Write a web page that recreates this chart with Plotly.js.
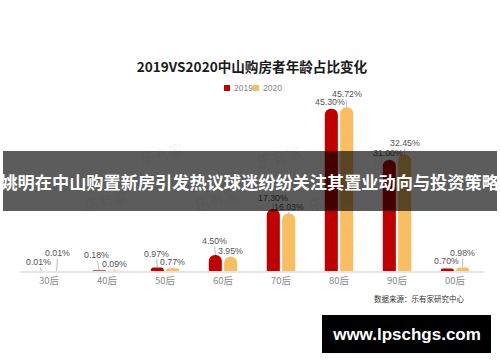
<!DOCTYPE html>
<html>
<head>
<meta charset="utf-8">
<script src="https://cdn.plot.ly/plotly-3.0.1.min.js"></script>
<style>html,body{margin:0;padding:0;background:#fff;}#chart{width:500px;height:362px;}</style>
</head>
<body>
<div id="chart"></div>
<script>
const categories = ['30后','40后','50后','60后','70后','80后','90后','00后'];
const v2019 = [0.01, 0.18, 0.97, 4.50, 17.30, 45.30, 31.00, 0.70];
const v2020 = [0.01, 0.09, 0.77, 3.95, 16.03, 45.72, 32.45, 0.98];
const seriesNames = ['2019', '2020'];
const titleText = '2019VS2020中山购房者年龄占比变化';
const sourceText = '数据来源：乐有家研究中心';
const bannerText = '姚明在中山购置新房引发热议球迷纷纷关注其置业动向与投资策略';
const siteText = 'www.lpschgs.com';
const watermarkText = '乐有家';

// layout geometry (pixels)
const W = 500, H = 362, ML = 20, MR = 16, MT = 92, MB = 91;
const PW = W - ML - MR, PH = H - MT - MB;
const X = px => (px - ML) / PW;
const Y = py => (H - MB - py) / PH;

const colors = ['#C00000', '#F9BE62'];
const labelFont = {family: 'Liberation Sans, Arial, sans-serif', size: 8.8, color: '#555'};
// label offsets in pixels [ax, ay] relative to each bar top
const off2019 = [[-3,-9],[-3,-15],[-1,-14],[-1,-14],[0,-11],[-1,-7],[-1,-7],[-1,-7]];
const off2020 = [[1,-18],[0,-7],[0,-6],[0,-6],[0,-7],[0,-13],[0,-12],[0,-14]];
const barShift = 7.7;

const traces = [v2019, v2020].map((vals, i) => ({
  type: 'bar', name: seriesNames[i], x: categories, y: vals,
  marker: {color: colors[i], cornerradius: '50%'},
  hoverinfo: 'skip', showlegend: false
}));

const annotations = [];
// watermarks
[[135,135],[278,138],[420,134],[79,219],[216,218],[357,219]].forEach(p => {
  annotations.push({xref:'paper', yref:'paper', x:X(p[0]), y:Y(p[1]), text: watermarkText,
    showarrow:false, textangle:-15, font:{family:'Noto Sans CJK SC', size:15, color:'rgba(0,0,0,0.055)', weight:'bold'}});
});
// data labels
[[v2019, off2019, -barShift], [v2020, off2020, barShift]].forEach(([vals, offs, sh]) => {
  vals.forEach((v, j) => {
    annotations.push({xref:'x', yref:'y', x: categories[j], y: v, xshift: sh,
      text: v.toFixed(2) + '%', showarrow: true, arrowhead: 0, arrowwidth: 0.8, arrowcolor: '#aaa',
      standoff: 0, startstandoff: 0, ax: offs[j][0], ay: offs[j][1], borderpad: 0,
      font: labelFont});
  });
});
// legend
seriesNames.forEach((n, i) => {
  annotations.push({xref:'paper', yref:'paper', x: X(i === 0 ? 232 : 261), y: Y(88), xanchor:'left', yanchor:'middle',
    text: n, showarrow:false, font:{family:'Liberation Sans, Arial, sans-serif', size:8.5, color:'#888'}});
});
// source
annotations.push({xref:'paper', yref:'paper', x: X(466), y: Y(298), xanchor:'right', yanchor:'middle',
  text: sourceText, showarrow:false, font:{family:'Noto Sans CJK SC', size:7.5, color:'#333'}});
// banner
annotations.push({xref:'paper', yref:'paper', x: X(250), y: Y(181), xanchor:'center', yanchor:'middle',
  text: bannerText, showarrow:false, width: 494, height: 60, borderpad: 0, borderwidth: 0,
  bgcolor: 'rgba(0,0,0,0.64)', font:{family:'Noto Sans CJK SC', size:17.2, color:'#fff', weight:'bold'}});
// site box
annotations.push({xref:'paper', yref:'paper', x: X(406.5), y: Y(334), xanchor:'center', yanchor:'middle',
  text: siteText, showarrow:false, width: 169, height: 38, borderpad: 0, borderwidth: 0,
  bgcolor: '#000', font:{family:'Liberation Sans, Arial, sans-serif', size:17, color:'#fff', weight:'bold'}});

const shapes = colors.map((c, i) => {
  const x0 = i === 0 ? 224 : 253;
  return {type:'rect', xref:'paper', yref:'paper', x0: X(x0), x1: X(x0 + 6), y0: Y(91), y1: Y(85),
    fillcolor: c, line:{width:0}};
});

const layout = {
  width: W, height: H,
  margin: {l: ML, r: MR, t: MT, b: MB, pad: 0},
  paper_bgcolor: '#fff', plot_bgcolor: '#fff',
  title: {text: titleText, x: 0.5, xref: 'paper', xanchor: 'center', y: 1 - 67.5 / H, yanchor: 'middle',
    font: {family: 'Noto Sans CJK SC', size: 13.6, color: '#1a1a1a', weight: 'bold'}},
  barmode: 'group', bargap: 0.47, bargroupgap: 0.15,
  xaxis: {type: 'category', showline: true, linecolor: '#e6e6e6', linewidth: 2, ticks: '',
    showgrid: false, zeroline: false, fixedrange: true,
    tickfont: {family: 'Noto Sans CJK SC', size: 9.5, color: '#888'}},
  yaxis: {visible: false, range: [0, 50], fixedrange: true},
  showlegend: false,
  annotations: annotations,
  shapes: shapes
};

Plotly.newPlot('chart', traces, layout, {displayModeBar: false, staticPlot: true});
</script>
</body>
</html>
